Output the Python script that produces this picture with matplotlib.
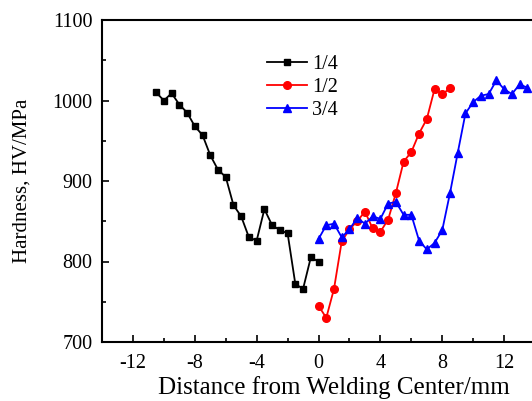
import matplotlib
matplotlib.use("Agg")
import matplotlib.pyplot as plt
from matplotlib.ticker import MultipleLocator

plt.rcParams['font.family'] = ['Liberation Serif', 'DejaVu Serif']
plt.rcParams['axes.unicode_minus'] = False

x_q = [-10.5, -10.0, -9.5, -9.0, -8.5, -8.0, -7.5, -7.0, -6.5, -6.0, -5.5, -5.0,
       -4.5, -4.0, -3.5, -3.0, -2.5, -2.0, -1.5, -1.0, -0.5, 0.0]
y_q = [1010, 1000, 1009, 995, 985, 968, 957, 932, 914, 905, 870, 856,
       830, 826, 865, 845, 839, 835, 772, 766, 805, 800]

x_h = [0.0, 0.5, 1.0, 1.5, 2.0, 2.5, 3.0, 3.5, 4.0, 4.5, 5.0, 5.5, 6.0, 6.5, 7.0, 7.5, 8.0, 8.5]
y_h = [745, 730, 766, 825, 840, 850, 862, 841, 837, 852, 885, 924, 936, 959, 977, 1014, 1008, 1015]

x_t = [0.0, 0.5, 1.0, 1.5, 2.0, 2.5, 3.0, 3.5, 4.0, 4.5, 5.0, 5.5, 6.0, 6.5, 7.0, 7.5,
       8.0, 8.5, 9.0, 9.5, 10.0, 10.5, 11.0, 11.5, 12.0, 12.5, 13.0, 13.5]
y_t = [828, 845, 847, 830, 840, 854, 847, 856, 853, 872, 874, 858, 858, 826, 815, 823,
       839, 885, 935, 984, 998, 1006, 1008, 1025, 1014, 1008, 1020, 1016]

x_ticks = [-12, -8, -4, 0, 4, 8, 12]
labels = ['1/4', '1/2', '3/4']

fig = plt.figure(figsize=(5.32, 4.01), dpi=100)
ax = fig.add_axes([102/532, 59/401, 464/532, 322/401])

ax.plot(x_q, y_q, color='black', marker='s', markersize=5, linewidth=1.3, label=labels[0])
ax.plot(x_h, y_h, color='red', marker='o', markersize=5.5, linewidth=1.3, label=labels[1])
ax.plot(x_t, y_t, color='blue', marker='^', markersize=6, linewidth=1.3, label=labels[2])

ax.set_xlim(-14, 16)
ax.set_ylim(700, 1100)
ax.set_xticks(x_ticks)
ax.xaxis.set_minor_locator(MultipleLocator(2))
ax.yaxis.set_major_locator(MultipleLocator(100))
ax.yaxis.set_minor_locator(MultipleLocator(50))
ax.tick_params(which='both', direction='in', labelsize=14.5, width=1.2)
ax.tick_params(which='major', length=5)
ax.tick_params(which='minor', length=3)
ax.tick_params(axis='x', pad=9)
ax.tick_params(axis='y', pad=7)
for s in ax.spines.values():
    s.set_linewidth(1.5)

ax.set_xlabel('Distance from Welding Center/mm', fontsize=18, labelpad=2)
ax.set_ylabel('Hardness, HV/MPa', fontsize=15, labelpad=15)

ax.legend(loc='upper left', bbox_to_anchor=(0.325, 0.935), frameon=False, fontsize=14.5,
          handlelength=2.0, handletextpad=0.25, labelspacing=0.2, borderpad=0.2)

fig.savefig('out.png', dpi=100)
